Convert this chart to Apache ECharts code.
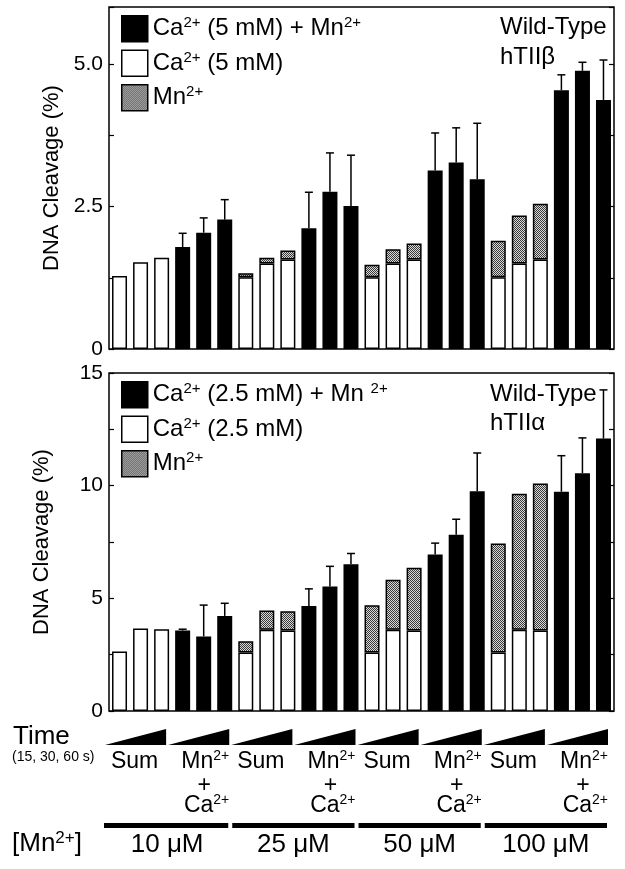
<!DOCTYPE html>
<html><head><meta charset="utf-8">
<script src="https://cdn.jsdelivr.net/npm/echarts@6/dist/echarts.min.js"></script>
<style>html,body{margin:0;padding:0;background:#fff}#c{width:625px;height:869px}</style>
</head><body><div id="c"></div>
<script>
// ---------- data ----------
const categories = [
 '10 Sum 15s','10 Sum 30s','10 Sum 60s','10 MnCa 15s','10 MnCa 30s','10 MnCa 60s',
 '25 Sum 15s','25 Sum 30s','25 Sum 60s','25 MnCa 15s','25 MnCa 30s','25 MnCa 60s',
 '50 Sum 15s','50 Sum 30s','50 Sum 60s','50 MnCa 15s','50 MnCa 30s','50 MnCa 60s',
 '100 Sum 15s','100 Sum 30s','100 Sum 60s','100 MnCa 15s','100 MnCa 30s','100 MnCa 60s'];

// top panel (hTIIbeta)
const topCa    = [1.28,1.52,1.60,null,null,null,1.26,1.50,1.57,null,null,null,1.26,1.50,1.57,null,null,null,1.26,1.50,1.57,null,null,null];
const topMn    = [null,null,null,null,null,null,0.07,0.10,0.16,null,null,null,0.22,0.25,0.28,null,null,null,0.64,0.84,0.98,null,null,null];
const topCombo = [null,null,null,1.79,2.04,2.27,null,null,null,2.12,2.76,2.51,null,null,null,3.13,3.27,2.98,null,null,null,4.54,4.88,4.37];
const topErr   = [null,null,null,0.24,0.26,0.35,null,null,null,0.63,0.68,0.89,null,null,null,0.66,0.61,0.98,null,null,null,0.27,0.15,0.70];

// bottom panel (hTIIalpha)
const botCa    = [2.64,3.66,3.63,null,null,null,2.60,3.61,3.57,null,null,null,2.60,3.61,3.57,null,null,null,2.60,3.61,3.57,null,null,null];
const botMn    = [null,null,null,null,null,null,0.49,0.85,0.86,null,null,null,2.09,2.21,2.79,null,null,null,4.83,6.03,6.53,null,null,null];
const botCombo = [null,null,null,3.57,3.31,4.22,null,null,null,4.66,5.52,6.51,null,null,null,6.94,7.82,9.75,null,null,null,9.73,10.55,12.09];
const botErr   = [null,null,null,0.06,1.39,0.56,null,null,null,0.76,0.90,0.48,null,null,null,0.51,0.69,1.70,null,null,null,1.60,1.57,2.16];

const topTickVals = [0, 2.5, 5];
const topTickLabels = ['0', '2.5', '5.0'];
const botTickVals = [0, 5, 10, 15];
const botTickLabels = ['0', '5', '10', '15'];

const topNames = ['Ca2+ (5 mM) + Mn2+', 'Ca2+ (5 mM)', 'Mn2+'];
const botNames = ['Ca2+ (2.5 mM) + Mn 2+', 'Ca2+ (2.5 mM)', 'Mn2+'];

// time groups (first, last category index) and their label type
const timeGroups = [[0,2],[3,5],[6,8],[9,11],[12,14],[15,17],[18,20],[21,23]];
const timeGroupKinds = ['Sum','MnCa','Sum','MnCa','Sum','MnCa','Sum','MnCa'];
// Mn concentration groups
const concGroups = [[0,5],[6,11],[12,17],[18,23]];
const concLabels = ['10 \u03bcM', '25 \u03bcM', '50 \u03bcM', '100 \u03bcM'];

// ---------- styles ----------
const FONT = 'Liberation Sans, Arial, Helvetica, sans-serif';
const pc = document.createElement('canvas');
pc.width = 2; pc.height = 2;
const pctx = pc.getContext('2d');
pctx.fillStyle = '#d8d8d8'; pctx.fillRect(0,0,2,2);
pctx.fillStyle = '#3a3a3a'; pctx.fillRect(0,0,1,1); pctx.fillRect(1,1,1,1);
const grayPattern = {image: pc, repeat: 'repeat'};

const supRich = (fs, sfs) => ({
  m: {fontSize: fs, fontFamily: FONT, color: '#000', lineHeight: fs + 2},
  sup: {fontSize: sfs, fontFamily: FONT, color: '#000', verticalAlign: 'top', lineHeight: sfs}
});
const toRich = s => '{m|' + s.replace(/2\+/g, '}{sup|2+}{m|') + '}';

function bars(names, ca, mn, combo, xi, yi) {
  const base = {type: 'bar', stack: 's' + xi, xAxisIndex: xi, yAxisIndex: yi, barWidth: 15, z: 2,
    emphasis: {disabled: true}};
  return [
    Object.assign({}, base, {name: names[1], data: ca, itemStyle: {color: '#fff', borderColor: '#000', borderWidth: 1.5}}),
    Object.assign({}, base, {name: names[2], data: mn, itemStyle: {color: grayPattern, borderColor: '#000', borderWidth: 1.5}}),
    Object.assign({}, base, {name: names[0], data: combo, itemStyle: {color: '#000', borderColor: '#000', borderWidth: 1.5}})
  ];
}

function errSeries(combo, err, xi, yi) {
  const data = [];
  combo.forEach((v, i) => { if (v != null && err[i] != null) data.push([i, v, err[i]]); });
  return {
    type: 'custom', xAxisIndex: xi, yAxisIndex: yi, z: 3, silent: true, data,
    encode: {x: 0, y: 1},
    renderItem(params, api) {
      const i = api.value(0), m = api.value(1), e = api.value(2);
      const p0 = api.coord([i, m]), p1 = api.coord([i, m + e]);
      const st = {stroke: '#000', lineWidth: 1.5};
      return {type: 'group', children: [
        {type: 'line', shape: {x1: p0[0], y1: p0[1], x2: p1[0], y2: p1[1]}, style: st},
        {type: 'line', shape: {x1: p1[0] - 4, y1: p1[1], x2: p1[0] + 4, y2: p1[1]}, style: st}
      ]};
    }
  };
}

const SHIFT = -5; // annotation rows sit slightly left of the plot in the original
function groupEdges(api, a, b) {
  const ca = api.coord([a, 0]), cb = api.coord([b, 0]);
  const bw = api.coord([1, 0])[0] - api.coord([0, 0])[0];
  return {x0: ca[0] - bw / 2 + SHIFT, x1: cb[0] + bw / 2 + SHIFT, y0: ca[1]};
}

const wedgeSeries = {
  type: 'custom', xAxisIndex: 1, yAxisIndex: 2, clip: false, silent: true, z: 5,
  data: timeGroups.map((g, k) => [g[0], 0, g[1], k]),
  encode: {x: 0, y: 1},
  renderItem(params, api) {
    const k = api.value(3);
    const e = groupEdges(api, api.value(0), api.value(2));
    const children = [{type: 'polygon', shape: {points: [[e.x0 + 1, e.y0 + 34], [e.x1 - 1, e.y0 + 34], [e.x1 - 1, e.y0 + 18]]},
      style: {fill: '#000'}}];
    const rich = supRich(23, 14);
    if (timeGroupKinds[k] === 'Sum') {
      children.push({type: 'text', style: {text: toRich('Sum'), x: (e.x0 + e.x1) / 2 - 1, y: e.y0 + 51,
        align: 'center', verticalAlign: 'middle', rich}});
    } else {
      children.push({type: 'text', style: {text: toRich('Mn2+'), x: e.x1 - 1, y: e.y0 + 51,
        align: 'right', verticalAlign: 'middle', rich}});
      children.push({type: 'text', style: {text: '+', x: e.x1 - 26, y: e.y0 + 75, fill: '#000',
        font: '23px ' + FONT, align: 'center', verticalAlign: 'middle'}});
      children.push({type: 'text', style: {text: toRich('Ca2+'), x: e.x1 - 1, y: e.y0 + 95,
        align: 'right', verticalAlign: 'middle', rich}});
    }
    return {type: 'group', children};
  }
};

const concSeries = {
  type: 'custom', xAxisIndex: 1, yAxisIndex: 2, clip: false, silent: true, z: 5,
  data: concGroups.map((g, k) => [g[0], 0, g[1], k]),
  encode: {x: 0, y: 1},
  renderItem(params, api) {
    const k = api.value(3);
    const e = groupEdges(api, api.value(0), api.value(2));
    return {type: 'group', children: [
      {type: 'rect', shape: {x: e.x0 + (k === 0 ? 0 : 2), y: e.y0 + 112, width: e.x1 - e.x0 - (k === 0 ? 2 : 4), height: 5},
        style: {fill: '#000'}},
      {type: 'text', style: {text: concLabels[k], x: (e.x0 + e.x1) / 2, y: e.y0 + 134, fill: '#000',
        font: '26px ' + FONT, align: 'center', verticalAlign: 'middle'}}
    ]};
  }
};

function yAxes(gi, max, interval, vals, labels, nameGap) {
  return [{
    type: 'value', gridIndex: gi, min: 0, max, interval, position: 'left',
    name: 'DNA Cleavage (%)', nameLocation: 'middle', nameGap,
    nameTextStyle: {fontSize: 22, color: '#000', fontFamily: FONT},
    axisLine: {show: false}, splitLine: {show: false},
    axisTick: {show: true, inside: true, length: 5, lineStyle: {color: '#000', width: 1.2}},
    axisLabel: {color: '#000', fontSize: 21, fontFamily: FONT, margin: 6, showMaxLabel: true,
      formatter: v => { const j = vals.indexOf(v); return j >= 0 ? labels[j] : ''; }}
  }, {
    type: 'value', gridIndex: gi, min: 0, max, interval, position: 'right',
    axisLine: {show: false}, splitLine: {show: false}, axisLabel: {show: false},
    axisTick: {show: true, inside: true, length: 5, lineStyle: {color: '#000', width: 1.2}}
  }];
}

function legend(names, top) {
  return {
    orient: 'vertical', left: 121, top, padding: 0, itemWidth: 26, itemHeight: 26, itemGap: 7,
    data: names, icon: 'rect', selectedMode: false,
    itemStyle: {borderColor: '#000', borderWidth: 1.5},
    textStyle: {fontSize: 24, color: '#000', fontFamily: FONT, lineHeight: 26, rich: supRich(24, 15)},
    formatter: n => toRich(n)
  };
}

const chart = echarts.init(document.getElementById('c'), null, {renderer: 'canvas'});
chart.setOption({
  animation: false,
  backgroundColor: '#fff',
  grid: [
    {left: 109, top: 7, width: 505, height: 342, show: true, borderColor: '#000', borderWidth: 1.5, backgroundColor: 'transparent'},
    {left: 109, top: 373, width: 505, height: 338, show: true, borderColor: '#000', borderWidth: 1.5, backgroundColor: 'transparent'}
  ],
  xAxis: [0, 1].map(gi => ({type: 'category', gridIndex: gi, data: categories,
    axisLine: {show: false}, axisTick: {show: false}, axisLabel: {show: false}})),
  yAxis: [...yAxes(0, 6, 1.25, topTickVals, topTickLabels, 46), ...yAxes(1, 15, 2.5, botTickVals, botTickLabels, 56)],
  legend: [legend(topNames, 15), legend(botNames, 381)],
  series: [
    ...bars(topNames, topCa, topMn, topCombo, 0, 0),
    errSeries(topCombo, topErr, 0, 0),
    ...bars(botNames, botCa, botMn, botCombo, 1, 2),
    errSeries(botCombo, botErr, 1, 2),
    wedgeSeries, concSeries
  ],
  graphic: [
    {type: 'text', left: 500, top: 12, style: {text: 'Wild-Type\nhTII\u03b2', fill: '#000', font: '24px ' + FONT, lineHeight: 30}},
    {type: 'text', left: 490, top: 380, style: {text: 'Wild-Type\nhTII\u03b1', fill: '#000', font: '24px ' + FONT, lineHeight: 29}},
    {type: 'text', left: 13, top: 724, style: {text: 'Time', fill: '#000', font: '26px ' + FONT}},
    {type: 'text', left: 12, top: 750, style: {text: '(15, 30, 60 s)', fill: '#000', font: '14px ' + FONT}},
    {type: 'text', left: 12, top: 830, style: {text: toRich('[Mn2+]'), rich: supRich(26, 17)}}
  ]
});
</script></body></html>
